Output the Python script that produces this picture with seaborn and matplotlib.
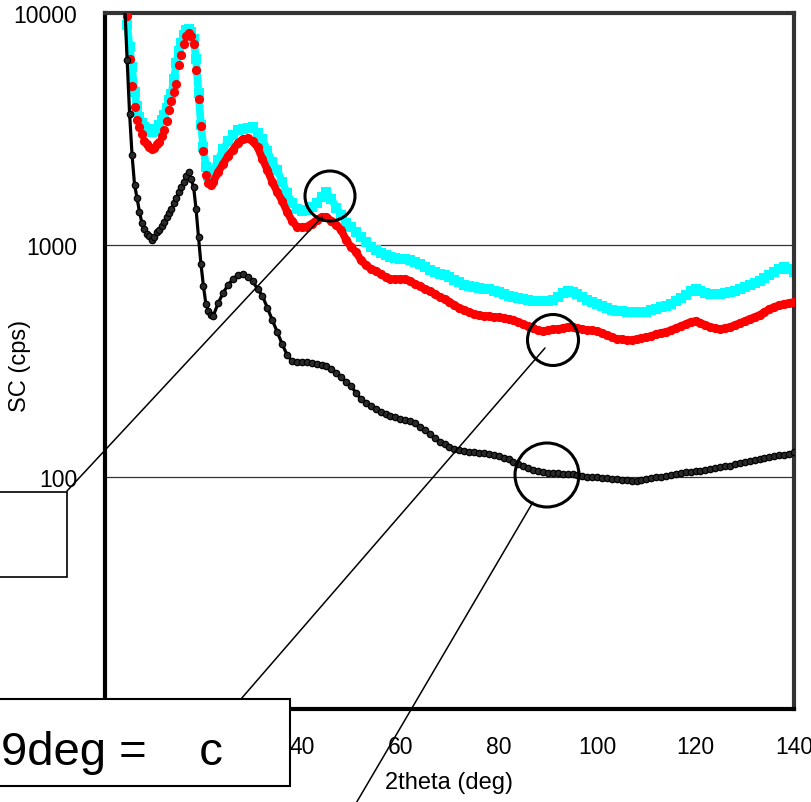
import numpy as np
import pandas as pd
import matplotlib
matplotlib.use("Agg")
import matplotlib.pyplot as plt
import seaborn as sns
from matplotlib.patches import Circle, Rectangle
from matplotlib.lines import Line2D
from matplotlib.transforms import Affine2D
from matplotlib.ticker import NullLocator

# ---------------- data ----------------
two_theta = [4, 4.5, 5, 5.5, 6, 6.5, 7, 7.5, 8, 8.5, 9, 9.5, 10, 10.5, 11, 11.5,
             12, 12.5, 13, 13.5, 14, 14.5, 15, 15.5, 16, 16.5, 17, 17.5, 18, 18.5,
             19, 19.5, 20, 20.5, 21, 21.5, 22,
             23, 24, 25, 26, 27, 28, 29, 30, 31, 32, 33, 34, 35, 36, 37, 38, 39, 40,
             41, 42, 43, 44, 45, 46, 47, 48, 49, 50, 51, 52, 53, 54, 55, 56, 57, 58,
             59, 60, 61, 62, 63, 64, 65, 66, 67, 68, 69, 70, 71, 72, 73, 74, 75, 76,
             77, 78, 79, 80, 81, 82, 83, 84, 85, 86, 87, 88, 89, 90, 91, 92, 93, 94,
             95, 96, 97, 98, 99, 100, 101, 102, 103, 104, 105, 106, 107, 108, 109, 110,
             111, 112, 113, 114, 115, 116, 117, 118, 119, 120, 121, 122, 123, 124, 125,
             126, 127, 128, 129, 130, 131, 132, 133, 134, 135, 136, 137, 138, 139, 140]

sc_cyan = [np.nan, 8880, 7130, 5850, 4560, 3970, 3565, 3360, 3230, 3160, 3100, 3070,
           3100, 3160, 3290, 3460, 3630, 3900, 4220, 4480, 5200, 6080, 6850, 7430,
           8040, 8450, 8530, 8280, 7730, 6340, 4520, 3290, 2640, 2170, 1980, 1945, 2085,
           2325, 2590, 2800, 2980, 3130, 3160, 3190, 3230, 3040, 2860, 2540, 2280, 2105,
           1870, 1675, 1517, 1430, 1395, 1420, 1460, 1517, 1610, 1690, 1580, 1450, 1350,
           1245, 1200, 1138, 1080, 1030, 980, 951, 924, 906, 888, 879, 870, 870, 861,
           845, 828, 803, 780, 765, 750, 743, 728, 706, 692, 673, 665, 659, 652, 645,
           645, 633, 627, 615, 603, 597, 591, 585, 579, 574, 574, 574, 574, 579, 597,
           621, 633, 627, 615, 597, 579, 568, 557, 546, 535, 525, 520, 520, 515, 515,
           515, 515, 515, 525, 530, 540, 546, 557, 574, 591, 609, 633, 645, 633, 621,
           615, 615, 615, 621, 627, 633, 645, 659, 673, 686, 700, 720, 743, 765, 790,
           806, 790, 765]

sc_red = [np.nan, 9700, 6340, 4840, 3935, 3460, 3230, 3010, 2800, 2720, 2640, 2590,
          2620, 2720, 2780, 2950, 3130, 3420, 3815, 4180, 4560, 4940, 5940, 6590,
          7350, 7960, 8200, 7960, 7350, 5680, 4260, 3260, 2540, 2000, 1850, 1810, 1870,
          2065, 2235, 2420, 2570, 2750, 2860, 2880, 2800, 2640, 2350, 2105, 1870, 1690,
          1550, 1390, 1270, 1200, 1190, 1200, 1235, 1280, 1320, 1320, 1270, 1220, 1160,
          1050, 980, 933, 861, 820, 790, 773, 750, 728, 713, 713, 713, 713, 700,
          679, 665, 645, 633, 615, 597, 585, 568, 551, 535, 525, 514, 504, 499, 494,
          494, 489, 489, 484, 480, 475, 466, 456, 447, 438, 429, 425, 429, 434, 434,
          438, 443, 443, 438, 434, 429, 429, 425, 418, 409, 401, 393, 393, 389, 389,
          393, 397, 401, 405, 413, 418, 422, 429, 438, 447, 456, 466, 470, 461, 452,
          443, 438, 434, 438, 443, 452, 461, 470, 480, 489, 499, 514, 530, 540, 551,
          557, 562, 568]

sc_black = [11000, 6270, 3670, 2440, 1820, 1600, 1390, 1245, 1172, 1115, 1090, 1050,
            1080, 1140, 1160, 1210, 1256, 1320, 1375, 1430, 1517, 1600, 1690, 1780,
            1870, 1980, 2065, 1925, 1780, 1430, 1080, 828, 665, 557, 520, 499, 495,
            562, 621, 673, 713, 743, 750, 728, 700, 645, 603, 535, 475, 422,
            374, 336, 316, 313, 313, 313, 310, 307, 304, 301, 292, 281, 270,
            257, 247, 230, 217, 208, 202, 196, 191, 187, 183, 182, 178, 176, 174,
            171, 164, 160, 153, 147, 142, 139, 135, 132, 131, 129, 128, 128, 127, 127,
            126, 124, 123, 121, 119, 116, 114, 111, 109, 107, 106, 105, 104, 104, 104,
            103, 103, 103, 102, 101, 100, 100, 100, 99, 99, 98, 98, 97, 97, 96,
            96, 97, 98, 99, 100, 100, 101, 102, 103, 104, 105, 105, 106, 106, 107,
            108, 109, 110, 111, 112, 114, 115, 116, 117, 118, 119, 121, 122, 123, 124,
            125, 126, 128]

# the red series is sampled as separate dots below this angle, densely above it
red_dense_from = 21.5

x_ticks = [0, 20, 40, 60, 80, 100, 120, 140]
x_tick_labels = ["", "", "40", "60", "80", "100", "120", "140"]   # 0 and 20 hidden by the box
y_ticks = [10, 100, 1000, 10000]
y_tick_labels = ["", "100", "1000", "10000"]                      # 10 hidden by the box

x_label = "2theta (deg)"
y_label = "SC (cps)"
box_text = "9deg =    c"

# ---------------- styling ----------------
sns.set_theme(style="white")
plt.rcParams["font.family"] = ["Liberation Sans", "DejaVu Sans"]

W, H = 812, 803
fig = plt.figure(figsize=(W / 100, H / 100), dpi=100)
fig.patch.set_facecolor("white")
ax = fig.add_axes([105 / W, (H - 710) / H, (794 - 105) / W, (710 - 14) / H])
ax.set_facecolor("white")
ax.set_yscale("log")

df = pd.DataFrame({"two_theta": two_theta, "cyan": sc_cyan,
                   "red": sc_red, "black": sc_black})
df_red_dense = df[df["two_theta"] >= red_dense_from]

sns.lineplot(data=df, x="two_theta", y="cyan", ax=ax, color="#00FFFF", lw=5.5,
             marker="s", markersize=7, markeredgewidth=0, estimator=None,
             zorder=2, legend=False)
sns.lineplot(data=df_red_dense, x="two_theta", y="red", ax=ax, color="#FF0000",
             lw=5.5, estimator=None, zorder=3, legend=False)
sns.scatterplot(data=df, x="two_theta", y="red", ax=ax, color="#FF0000", s=44,
                linewidth=0, zorder=3, legend=False)
sns.lineplot(data=df, x="two_theta", y="black", ax=ax, color="black", lw=2.3,
             marker="o", markersize=4.6, markerfacecolor="#2a2a2a",
             markeredgecolor="black", markeredgewidth=0.9, estimator=None,
             zorder=4, legend=False)

ax.set_xlim(0, 140)
ax.set_ylim(10, 10000)
ax.set_xticks(x_ticks)
ax.set_xticklabels(x_tick_labels)
ax.set_yticks(y_ticks)
ax.set_yticklabels(y_tick_labels)
ax.yaxis.set_minor_locator(NullLocator())
ax.xaxis.set_minor_locator(NullLocator())

ax.tick_params(axis="both", direction="in", length=6, width=2.2, colors="black",
               labelsize=16.5)
ax.tick_params(axis="x", pad=18.5)
ax.tick_params(axis="y", pad=20)

ax.grid(False)
ax.yaxis.grid(True, color="#333333", lw=0.9)
ax.set_axisbelow(True)

for side, col in [("left", "black"), ("bottom", "black"),
                  ("top", "#333333"), ("right", "#333333")]:
    ax.spines[side].set_visible(True)
    ax.spines[side].set_color(col)
    ax.spines[side].set_linewidth(3)

ax.set_xlabel(x_label, fontsize=17, color="black")
ax.set_ylabel(y_label, fontsize=17, color="black")
ax.xaxis.set_label_coords(0.5, -0.089)
ax.yaxis.set_label_coords(-0.108, 0.494)

# ---------------- annotations (figure pixel layout) ----------------
px = Affine2D().scale(1 / W, -1 / H).translate(0, 1) + fig.transFigure

for (cx, cy, r) in [(330, 197, 25), (553, 341, 25.5), (547, 476, 32)]:
    fig.add_artist(Circle((cx, cy), r, transform=px, fill=False,
                          ec="black", lw=2.2, zorder=5))

for (xa, ya, xb, yb) in [(322, 218, 67, 492), (545, 349, 241, 700),
                         (533, 503, 355, 806)]:
    fig.add_artist(Line2D([xa, xb], [ya, yb], transform=px, color="black",
                          lw=1.1, zorder=5))

fig.add_artist(Rectangle((-5, 492.7), 71.7, 85, transform=px, fc="white",
                         ec="black", lw=1.2, zorder=6))
fig.add_artist(Rectangle((-5, 700), 295, 87, transform=px, fc="white",
                         ec="black", lw=1.5, zorder=6))
fig.text(1, 765, box_text, transform=px, fontsize=34, ha="left",
         va="baseline", color="black", zorder=7)

fig.savefig("out.png", dpi=100)
